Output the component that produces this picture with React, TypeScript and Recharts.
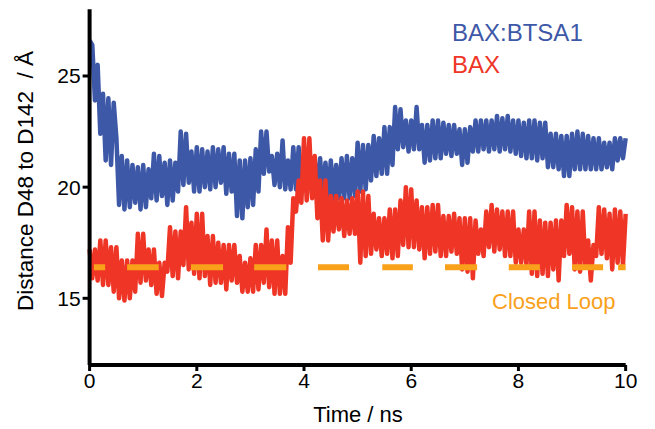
import React from 'react';
import { LineChart, Line, XAxis, YAxis } from 'recharts';

// sample spacing of the trajectories (ns)
const TIME_STEP = 0.05;

// BAX:BTSA1 distance (Å), one value per 0.05 ns from 0 to 10 ns
const baxBtsa1 = [
  26.6, 26.4, 23.9, 25.5, 22.4, 24.2, 21.2, 24.0, 21.0, 23.8,
  22.2, 19.2, 21.4, 19.0, 21.2, 19.1, 21.0, 19.3, 20.9, 19.0,
  21.0, 19.1, 20.8, 19.5, 21.5, 19.4, 21.4, 19.6, 21.1, 19.2,
  21.2, 19.4, 21.1, 19.8, 22.5, 20.1, 22.4, 20.2, 21.6, 19.8,
  21.8, 19.8, 21.7, 20.0, 21.6, 19.9, 21.8, 20.0, 21.7, 20.2,
  21.8, 19.7, 21.5, 19.8, 21.5, 18.7, 21.2, 18.6, 21.2, 19.1,
  21.3, 19.2, 21.7, 19.8, 22.5, 20.6, 22.5, 20.7, 21.4, 20.1,
  21.5, 20.0, 22.1, 19.9, 21.2, 19.9, 21.8, 19.9, 21.8, 19.8,
  21.2, 19.8, 21.3, 19.7, 21.2, 19.8, 21.3, 19.6, 21.1, 19.5,
  21.2, 19.4, 21.0, 19.5, 21.3, 19.5, 21.4, 19.5, 21.3, 19.6,
  22.0, 19.8, 21.9, 19.9, 21.9, 20.3, 22.3, 20.5, 22.2, 20.6,
  22.7, 20.6, 22.7, 21.0, 23.6, 21.7, 23.5, 21.8, 23.0, 21.6,
  23.0, 21.7, 23.6, 21.7, 22.8, 21.1, 22.8, 21.2, 23.0, 21.3,
  23.0, 21.3, 22.9, 21.5, 22.8, 21.4, 22.8, 21.5, 22.6, 21.0,
  22.6, 21.1, 22.7, 21.6, 23.0, 21.6, 23.0, 21.7, 23.0, 21.6,
  23.0, 21.7, 23.2, 21.6, 23.1, 21.7, 23.2, 21.6, 23.0, 21.5,
  23.0, 21.4, 22.9, 21.3, 23.0, 21.3, 23.0, 21.2, 22.9, 21.3,
  22.9, 20.9, 22.4, 20.9, 22.4, 20.8, 22.3, 20.5, 22.3, 20.5,
  22.4, 20.8, 22.5, 20.8, 22.4, 20.8, 22.3, 20.8, 22.2, 20.8,
  22.2, 20.8, 22.0, 20.9, 22.0, 20.8, 22.2, 21.2, 22.2, 21.3,
  22.2,
];

// BAX distance (Å), one value per 0.05 ns from 0 to 10 ns
const bax = [
  17.2, 15.9, 17.2, 15.8, 17.6, 15.6, 17.6, 15.6, 17.3, 15.3,
  17.3, 15.0, 16.7, 14.9, 16.7, 15.0, 16.7, 15.3, 17.9, 15.7,
  17.9, 15.8, 17.2, 15.6, 17.2, 15.2, 16.6, 15.1, 16.6, 16.2,
  18.2, 16.0, 18.0, 15.9, 18.0, 16.5, 19.1, 16.3, 18.4, 16.1,
  18.8, 15.9, 18.8, 16.0, 17.8, 15.6, 17.8, 15.7, 17.5, 15.7,
  17.4, 15.4, 17.4, 15.8, 17.4, 15.7, 16.9, 15.3, 16.6, 15.3,
  16.8, 15.3, 17.4, 15.4, 17.4, 15.7, 18.1, 15.5, 17.6, 15.2,
  17.6, 15.2, 16.9, 15.2, 18.2, 16.6, 19.5, 18.9, 20.3, 19.3,
  22.2, 19.4, 22.2, 19.5, 21.4, 18.6, 20.3, 17.6, 20.3, 17.6,
  19.6, 18.0, 19.6, 18.1, 19.5, 17.8, 19.4, 17.9, 19.5, 17.9,
  19.8, 16.6, 19.8, 16.9, 19.6, 17.0, 18.8, 17.2, 18.6, 16.9,
  18.6, 17.0, 19.0, 16.8, 19.0, 16.9, 19.4, 17.4, 20.0, 17.3,
  19.9, 17.3, 19.4, 17.2, 19.1, 16.8, 19.1, 17.0, 19.2, 17.1,
  19.2, 16.9, 18.7, 16.9, 18.7, 17.1, 18.8, 17.0, 18.6, 16.3,
  18.6, 16.2, 18.6, 15.9, 18.5, 17.0, 18.1, 16.9, 18.9, 17.3,
  19.2, 17.1, 19.0, 17.2, 18.9, 16.9, 18.9, 16.9, 18.9, 16.6,
  18.1, 16.6, 18.1, 16.5, 18.9, 16.1, 18.9, 16.0, 18.5, 16.1,
  18.4, 16.0, 18.4, 16.3, 18.5, 15.8, 18.5, 16.9, 19.2, 17.0,
  19.1, 16.3, 18.9, 16.2, 18.9, 16.4, 17.6, 15.8, 17.4, 16.9,
  19.1, 17.0, 19.0, 16.8, 18.8, 16.3, 19.0, 16.6, 18.9, 16.5,
  18.8,
];

// "Closed Loop" reference level and the time windows where it is marked
const closedLoopLevel = 16.4;
const closedLoopStarts = [0.08, 0.7, 1.89, 3.07, 4.26, 5.46, 6.63, 7.82, 9.0, 9.86];
const closedLoopEnds = [0.29, 1.29, 2.49, 3.67, 4.84, 6.03, 7.23, 8.4, 9.58, 10.0];

const xTicks = [0, 2, 4, 6, 8, 10];
const yTicks = [15, 20, 25];

const BLUE = '#3E58A8';
const RED = '#EE3526';
const ORANGE = '#F9A11B';
const FONT = '"Liberation Sans", Arial, Helvetica, sans-serif';

const data = baxBtsa1.map((v, i) => ({
  t: Math.round(i * TIME_STEP * 100) / 100,
  blue: v,
  red: bax[i],
}));

const loopData = closedLoopStarts.flatMap((a, i) => [
  { t: a, v: closedLoopLevel },
  { t: closedLoopEnds[i], v: closedLoopLevel },
  { t: closedLoopEnds[i] + 0.001, v: null },
]);

const W = 647;
const H = 421;

export default function App() {
  const tickStyle = { fill: '#000', fontSize: 21, fontFamily: FONT };
  return (
    <div style={{ position: 'relative', width: W, height: H }}>
      <LineChart
        width={W}
        height={H}
        data={data}
        margin={{ top: 1.3, right: 29.3, left: 0, bottom: 0 }}
      >
        <XAxis
          type="number"
          dataKey="t"
          domain={[0, 10]}
          ticks={xTicks}
          height={64}
          axisLine={{ stroke: '#000', strokeWidth: 4 }}
          tickLine={{ stroke: '#000', strokeWidth: 3 }}
          tickSize={6}
          tickMargin={2}
          tick={tickStyle}
          interval={0}
        />
        <YAxis
          type="number"
          domain={[12, 28]}
          ticks={yTicks}
          allowDataOverflow
          width={81.6}
          axisLine={{ stroke: '#000', strokeWidth: 4 }}
          tickLine={{ stroke: '#000', strokeWidth: 3 }}
          tickSize={7}
          tickMargin={2}
          tick={tickStyle}
          interval={0}
        />
        <Line
          dataKey="blue"
          stroke={BLUE}
          strokeWidth={4.5}
          strokeLinejoin="round"
          dot={false}
          isAnimationActive={false}
          type="linear"
        />
        <Line
          dataKey="red"
          stroke={RED}
          strokeWidth={4.5}
          strokeLinejoin="round"
          dot={false}
          isAnimationActive={false}
          type="linear"
        />
        <Line
          data={loopData}
          dataKey="v"
          stroke={ORANGE}
          strokeWidth={6}
          strokeLinecap="butt"
          dot={false}
          connectNulls={false}
          isAnimationActive={false}
          type="linear"
        />
      </LineChart>
      <svg
        width={W}
        height={H}
        style={{ position: 'absolute', left: 0, top: 0, pointerEvents: 'none' }}
      >
        <text
          x={17}
          y={173}
          transform="rotate(-90 17 173)"
          textAnchor="middle"
          dominantBaseline="central"
          fontSize={22.5}
          fontFamily={FONT}
          fill="#000"
          style={{ whiteSpace: 'pre' }}
        >
          {'Distance D48 to D142  / Å'}
        </text>
        <text x={350} y={413.7} textAnchor="middle" fontSize={22} fontFamily={FONT} fill="#000">
          Time / ns
        </text>
        <text x={444} y={32.5} fontSize={24} fontFamily={FONT} fill={BLUE}>
          BAX:BTSA1
        </text>
        <text x={444} y={64.7} fontSize={24} fontFamily={FONT} fill={RED}>
          BAX
        </text>
        <text x={484} y={301} fontSize={22} fontFamily={FONT} fill={ORANGE}>
          Closed Loop
        </text>
      </svg>
    </div>
  );
}
